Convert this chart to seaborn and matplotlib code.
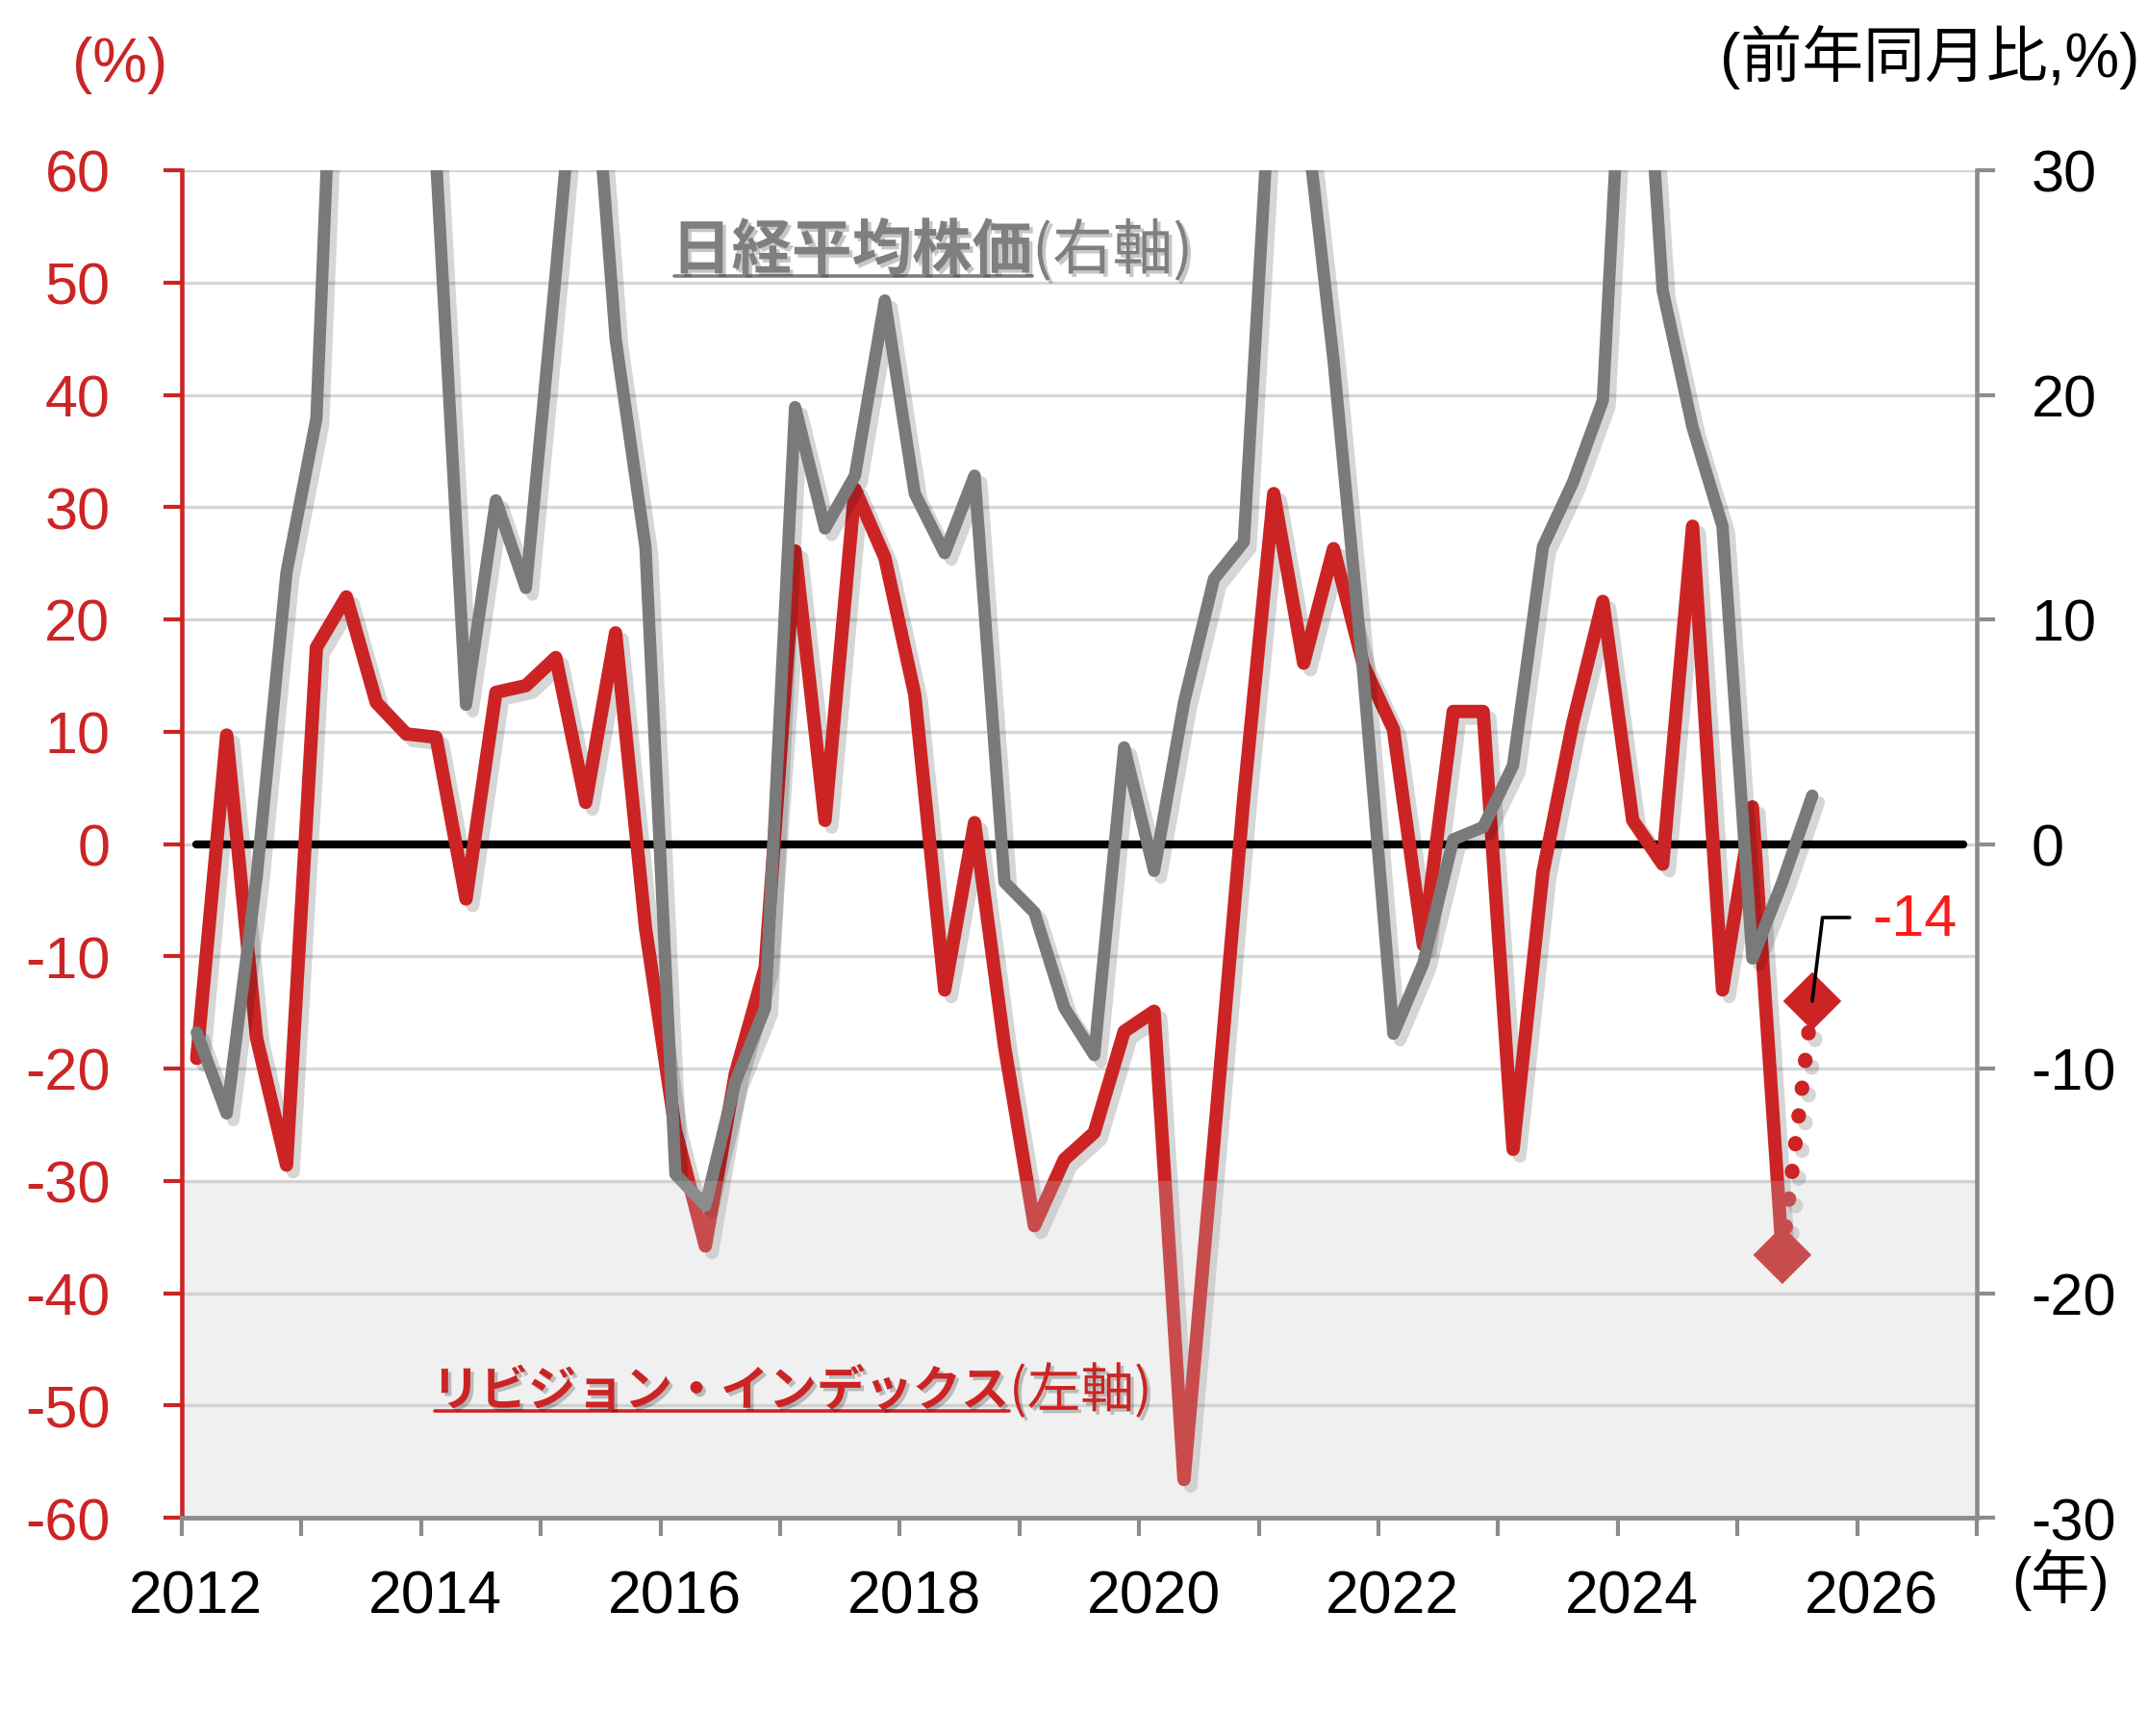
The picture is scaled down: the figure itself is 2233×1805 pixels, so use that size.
import numpy as np
import pandas as pd
import matplotlib
matplotlib.use("Agg")
import matplotlib.pyplot as plt
import matplotlib.patheffects as pe
from matplotlib.lines import Line2D
import seaborn as sns

# ---------------- data (quarterly, plotted at mid-quarter month) ----------------
start_quarter = "2012Q1"
revision = [-19.1, 9.7, -17.3, -28.6, 17.5, 22.0, 12.6, 9.8, 9.5, -4.9,
            13.5, 14.1, 16.6, 3.7, 18.8, -7.5, -25.5, -35.8, -20.5, -11.0,
            26.1, 2.1, 31.6, 25.5, 13.3, -13.0, 1.9, -18.0, -34.0, -28.1,
            -25.7, -16.7, -14.9, -56.6, -26.5, 4.2, 31.2, 16.1, 26.3, 15.9,
            10.2, -9.0, 11.8, 11.8, -27.2, -2.5, 10.8, 21.6, 2.1, -1.8,
            28.3, -13.0, 3.3, -36.6]
revision_forecast = -14.0
forecast_label = "-14"
nikkei = [-8.4, -12.0, -1.5, 12.1, 18.95, 51.5, 48.0, 58.0, 30.5, 6.2,
          15.3, 11.4, 25.4, 40.0, 22.5, 13.2, -14.7, -16.1, -10.6, -7.3,
          19.45, 14.05, 16.4, 24.2, 15.6, 12.95, 16.4, -1.7, -3.05, -7.3,
          -9.4, 4.3, -1.2, 6.3, 11.8, 13.45, 36.5, 33.3, 21.5, 7.5,
          -8.45, -5.3, 0.2, 0.75, 3.5, 13.25, 16.1, 19.75, 45.0, 24.65,
          18.55, 14.15, -5.1, -1.7, 2.15]
year_ticks = list(range(2012, 2028))
year_labels = ["2012", "2014", "2016", "2018", "2020", "2022", "2024", "2026"]
left_ticks = list(range(-60, 61, 10))
right_ticks = list(range(-30, 31, 10))

# ---------------- styling ----------------
RED = "#cc2424"
GRAY = "#7a7a7a"
W, H = 2233, 1806

sns.set_theme(style="white")
plt.rcParams["font.family"] = ["Liberation Sans", "Noto Sans CJK JP", "DejaVu Sans"]

periods = pd.period_range(start_quarter, periods=len(nikkei), freq="Q")
xq = np.asarray(periods.year + (periods.quarter - 1) / 4 + 0.125, dtype=float)

df_rev = pd.DataFrame({"x": xq[:len(revision)], "rev": revision})
df_nk = pd.DataFrame({"x": xq, "nk": nikkei})
df_fc = pd.DataFrame({"x": xq[len(revision) - 1:len(revision) + 1],
                      "rev": [revision[-1], revision_forecast]})

fig = plt.figure(figsize=(W / 100, H / 100), dpi=100)
fig.patch.set_facecolor("white")
L, R, T, B = 189, 2055, 178, 1579
ax = fig.add_axes([L / W, 1 - B / H, (R - L) / W, (B - T) / H])
ax2 = ax.twinx()

ax.set_xlim(2012, 2027)
ax.set_ylim(-60, 60)
ax2.set_ylim(-30, 30)

# grid
ax.set_yticks(left_ticks)
ax.yaxis.grid(True, color="#d6d6d6", lw=2.4, zorder=0)
ax.set_axisbelow(True)

# zero line
ax.axhline(0, xmin=0.0078, xmax=0.9925, color="black", lw=6, zorder=2,
           solid_capstyle="round")

shadow = [pe.SimpleLineShadow(offset=(5, -5), shadow_color="black", alpha=0.16),
          pe.Normal()]

# revision index (left)
sns.lineplot(data=df_rev, x="x", y="rev", ax=ax, color=RED, sort=False, zorder=3)
ln = ax.lines[-1]
ln.set_linewidth(10)
ln.set_solid_joinstyle("round")
ln.set_solid_capstyle("round")
ln.set_path_effects(shadow)

# forecast dotted segment
sns.lineplot(data=df_fc, x="x", y="rev", ax=ax, color=RED, sort=False, zorder=3)
fl = ax.lines[-1]
fl.set_linewidth(11)
fl.set_dashes((0.05, 1.85))
fl.set_dash_capstyle("round")
fl.set_path_effects(shadow)
sns.scatterplot(data=df_fc, x="x", y="rev", ax=ax, color=RED, marker="D",
                s=950, edgecolor="none", zorder=4)

# Nikkei (right)
sns.lineplot(data=df_nk, x="x", y="nk", ax=ax2, color=GRAY, sort=False, zorder=3)
gl = ax2.lines[-1]
gl.set_linewidth(9.2)
gl.set_solid_joinstyle("round")
gl.set_solid_capstyle("round")
gl.set_path_effects(shadow)

# shaded band (below -30 on the left axis), drawn over the lines
ax2.axhspan(-30, -15, facecolor=(196 / 255, 196 / 255, 196 / 255), alpha=0.25,
            lw=0, zorder=5)

# axes cosmetics
for s in ["top", "right", "left", "bottom"]:
    ax.spines[s].set_visible(False)
ax2.spines["top"].set_visible(False)
ax2.spines["right"].set_color("#8c8c8c")
ax2.spines["right"].set_linewidth(3.3)
ax2.spines["left"].set_color(RED)
ax2.spines["left"].set_linewidth(3.3)
ax2.spines["bottom"].set_color("#8c8c8c")
ax2.spines["bottom"].set_linewidth(3.5)
for s in ["left", "right", "bottom"]:
    ax2.spines[s].set_zorder(6)

ax.set_xlabel("")
ax.set_ylabel("")
ax2.set_ylabel("")

ax.set_xticks(year_ticks)
ax.set_xticklabels([])
ax.set_xticks([int(y) + 0.12 for y in year_labels], minor=True)
ax.set_xticklabels(year_labels, minor=True)
ax.tick_params(axis="x", which="major", direction="out", length=13.7, width=3,
               color="#8c8c8c", bottom=True)
ax.tick_params(axis="x", which="minor", length=0, labelsize=45, pad=38,
               labelcolor="black", bottom=True)

ax.set_yticklabels([str(v) for v in left_ticks])
ax.tick_params(axis="y", direction="out", length=13.7, width=3, color=RED,
               labelcolor=RED, labelsize=44, pad=40, left=True)

ax2.set_yticks(right_ticks)
ax2.set_yticklabels([str(v) for v in right_ticks])
ax2.tick_params(axis="y", direction="out", length=13.7, width=3,
                color="#8c8c8c", labelcolor="black", labelsize=44, pad=27,
                right=True)

# forecast annotation
xf, yf = df_fc["x"].iloc[-1], df_fc["rev"].iloc[-1]
ax.annotate("", xy=(xf, yf), xycoords="data", xytext=(28, 62.6),
            textcoords="offset points",
            arrowprops=dict(arrowstyle="-", color="black", lw=2.6,
                            connectionstyle="angle,angleA=0,angleB=83,rad=0",
                            shrinkA=0, shrinkB=0), zorder=7)
ax.annotate(forecast_label, xy=(xf, yf), xycoords="data", xytext=(44.6, 60.5),
            textcoords="offset points", color="#ff1a1a", fontsize=44,
            ha="left", va="center", zorder=7)

# axis unit labels
fig.text(125 / W, 1 - 68 / H, "(%)", color=RED, fontsize=46, ha="center",
         va="center")
fig.text(2224 / W, 1 - 60 / H, "(前年同月比,%)", color="black", fontsize=46,
         ha="right", va="center")
fig.text(2142 / W, 1 - 1643 / H, "(年)", color="black", fontsize=44,
         ha="center", va="center")

# series labels
tshadow = [pe.withSimplePatchShadow(offset=(2.5, -2.5), shadow_rgbFace="black",
                                    alpha=0.22)]
cjk = ["Noto Sans CJK JP"]
t1 = fig.text(698 / W, 1 - 262 / H, "日経平均株価", color="#7f7f7f",
              fontsize=45, fontweight="bold", family=cjk, ha="left",
              va="center", path_effects=tshadow, zorder=10)
t1b = fig.text(0, 0, "(右軸)", color="#7f7f7f", fontsize=45, family=cjk,
               fontweight="normal", ha="left", va="center",
               path_effects=tshadow, zorder=10)
t2 = fig.text(449 / W, 1 - 1448 / H, "リビジョン・インデックス", color=RED,
              fontsize=36, fontweight="bold", family=cjk, ha="left",
              va="center", path_effects=tshadow, zorder=10)
t2b = fig.text(0, 0, "(左軸)", color=RED, fontsize=40, family=cjk,
               fontweight="normal", ha="left", va="center",
               path_effects=tshadow, zorder=10)

fig.canvas.draw()
rend = fig.canvas.get_renderer()
inv = fig.transFigure.inverted()
for tb, tn, col in [(t1, t1b, "#7f7f7f"), (t2, t2b, RED)]:
    bb = tb.get_window_extent(rend)
    x1, yc = inv.transform((bb.x1, (bb.y0 + bb.y1) / 2))
    tn.set_position((x1, yc))
    (ux0, uy), (ux1, _) = inv.transform([(bb.x0 + 3, bb.y0 + 6), (bb.x1, bb.y0 + 6)])
    fig.add_artist(Line2D([ux0, ux1], [uy, uy], color=col, lw=2.6,
                          path_effects=tshadow, zorder=10))

fig.savefig("out.png", dpi=100, facecolor="white")
